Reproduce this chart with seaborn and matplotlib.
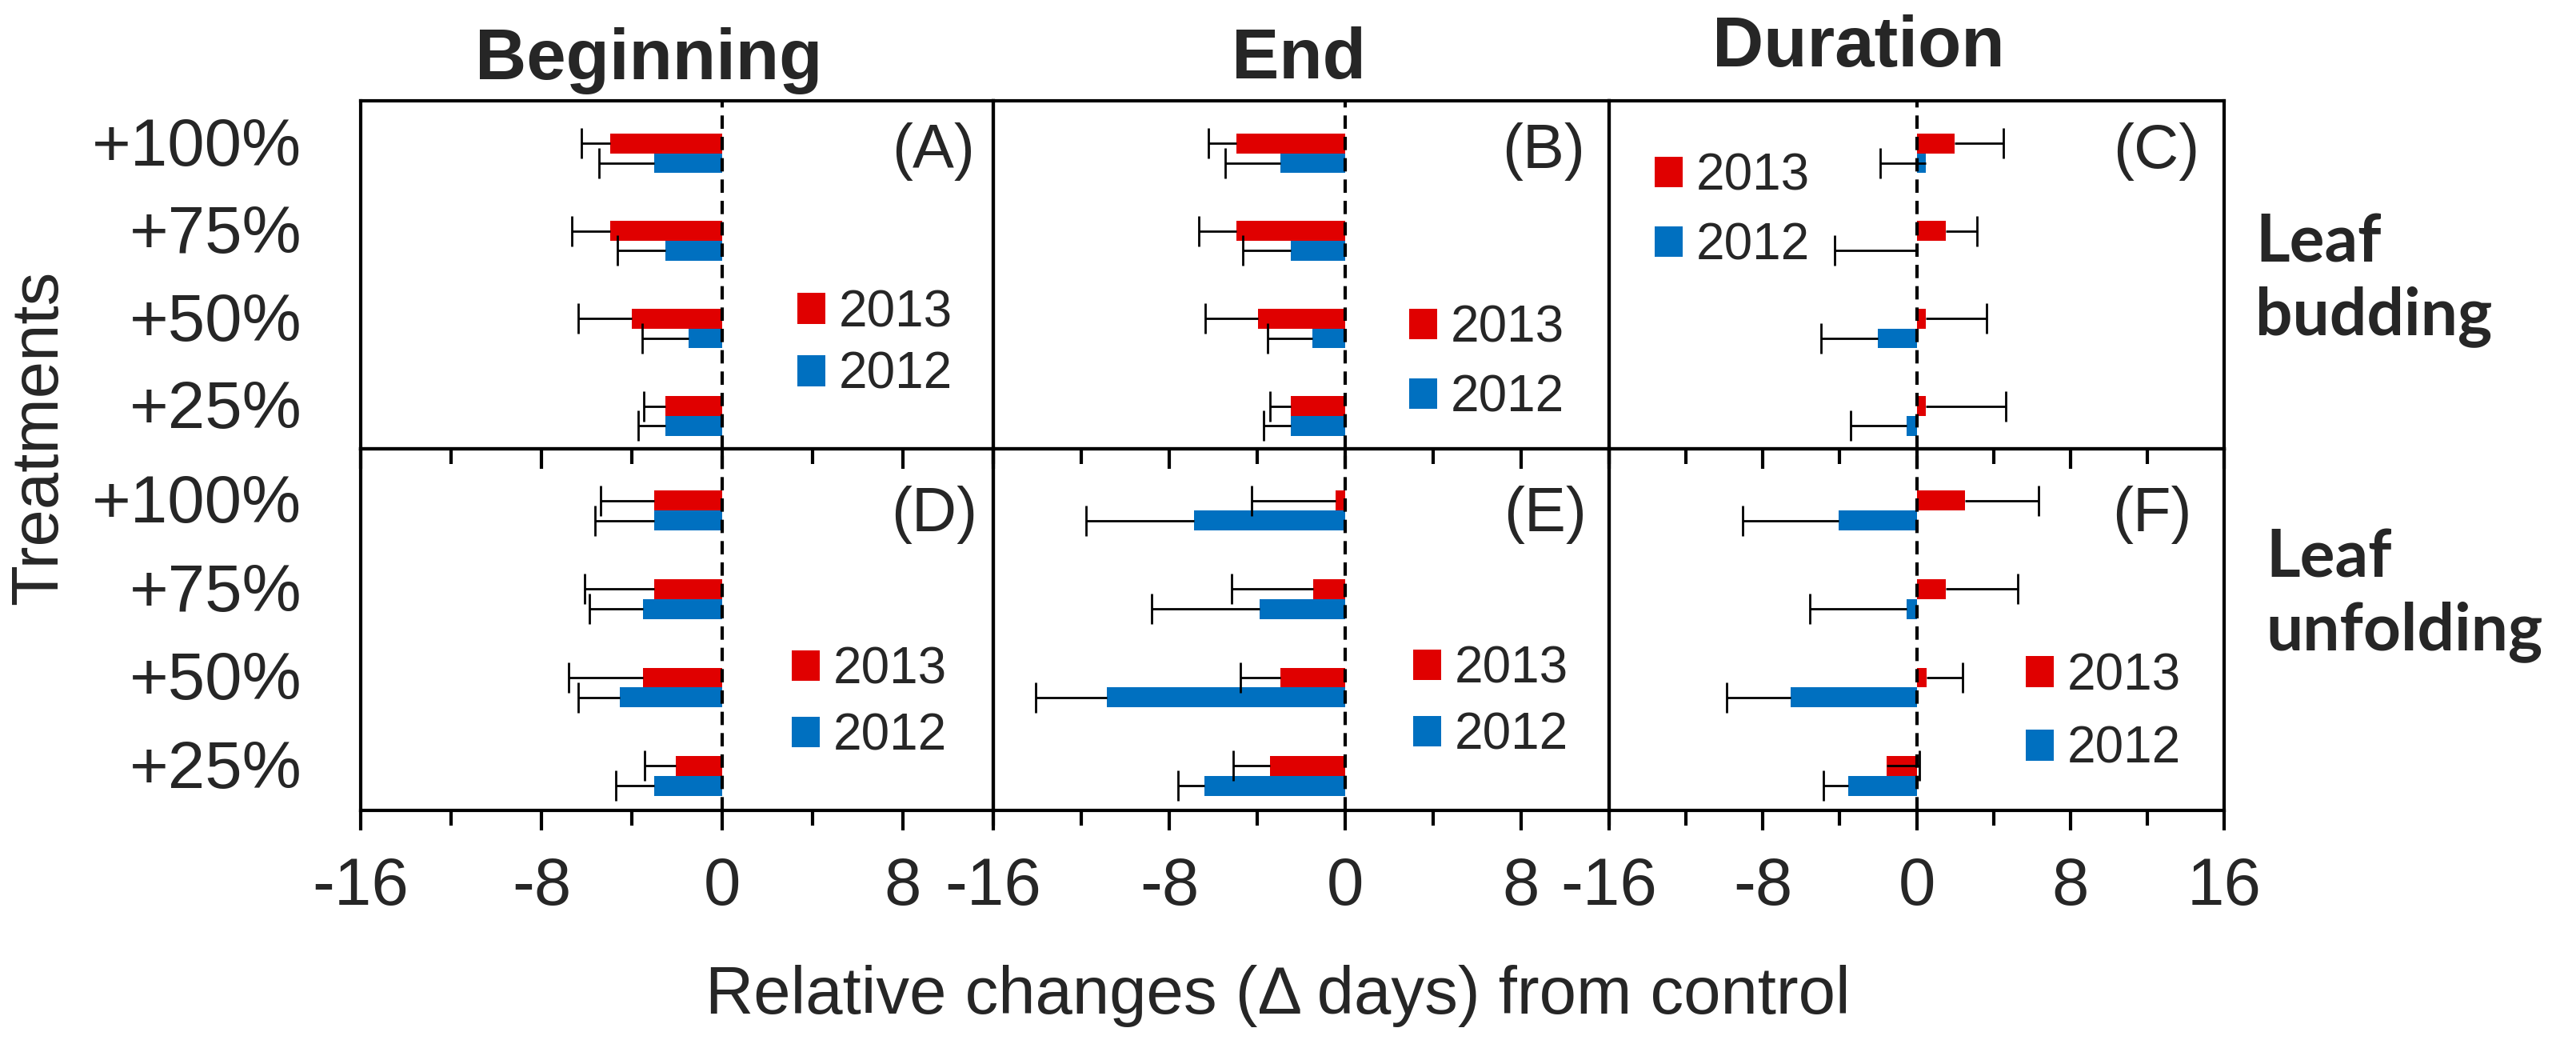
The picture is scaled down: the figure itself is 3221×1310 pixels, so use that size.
import numpy as np
import pandas as pd
import matplotlib
matplotlib.use("Agg")
import matplotlib.pyplot as plt
from matplotlib.ticker import MultipleLocator
import seaborn as sns

# Datos (cambio en dias respecto al control)
treatments = ["+100%", "+75%", "+50%", "+25%"]
years = ["2013", "2012"]
col_titles = ["Beginning", "End", "Duration"]
row_titles = ["Leaf\nbudding", "Leaf\nunfolding"]
panel_tags = ["(A)", "(B)", "(C)", "(D)", "(E)", "(F)"]

a_2013 = [-4.95, -4.95, -3.99, -2.50]
a_2012 = [-3.00, -2.50, -1.49, -2.50]
b_2013 = [-4.95, -4.95, -3.97, -2.47]
b_2012 = [-2.95, -2.47, -1.49, -2.47]
c_2013 = [1.98, 1.51, 0.47, 0.47]
c_2012 = [0.47, 0.00, -2.02, -0.54]
d_2013 = [-3.02, -3.02, -3.52, -2.04]
d_2012 = [-3.02, -3.52, -4.52, -3.02]
e_2013 = [-0.43, -1.45, -2.94, -3.42]
e_2012 = [-6.87, -3.89, -10.84, -6.40]
f_2013 = [2.52, 1.52, 0.52, -1.54]
f_2012 = [-4.06, -0.54, -6.55, -3.54]

# error bars, signed: negative = drawn to the left of the bar end
a_err_2013 = [-1.28, -1.72, -2.39, -0.96]
a_err_2012 = [-2.44, -2.14, -2.06, -1.22]
b_err_2013 = [-1.27, -1.72, -2.41, -0.96]
b_err_2012 = [-2.50, -2.19, -2.05, -1.23]
c_err_2013 = [2.52, 1.64, 3.19, 4.16]
c_err_2012 = [-2.36, -4.27, -2.97, -2.90]
d_err_2013 = [-2.36, -3.08, -3.29, -1.40]
d_err_2012 = [-2.61, -2.35, -1.86, -1.69]
e_err_2013 = [-3.82, -3.70, -1.84, -1.66]
e_err_2012 = [-4.93, -4.91, -3.25, -1.19]
f_err_2013 = [3.83, 3.74, 1.88, 1.68]
f_err_2012 = [-4.99, -5.01, -3.33, -1.29]

x_limits = [(-16, 12), (-16, 12), (-16, 16)]

panels = [
    (a_2013, a_2012, a_err_2013, a_err_2012),
    (b_2013, b_2012, b_err_2013, b_err_2012),
    (c_2013, c_2012, c_err_2013, c_err_2012),
    (d_2013, d_2012, d_err_2013, d_err_2012),
    (e_2013, e_2012, e_err_2013, e_err_2012),
    (f_2013, f_2012, f_err_2013, f_err_2012),
]

colors = {"2013": "#E00000", "2012": "#0070C0"}

sns.set_theme(style="ticks")
plt.rcParams["font.family"] = ["Liberation Sans", "DejaVu Sans"]
plt.rcParams["axes.unicode_minus"] = False

W, H = 3221, 1310
fig = plt.figure(figsize=(W / 100, H / 100), dpi=100)
fig.patch.set_facecolor("white")

# limites de cada panel en pixeles
col_edges = [451, 1242, 2012, 2781]
row_edges = [(126, 561), (561, 1013)]
row_ylims = [(3.375, -0.60), (3.39, -0.70)]

# posiciones de leyenda (centro, px) y espaciado
legend_pos = [(1094, 430, 0.28), (1859, 454, 0.42), (2166, 264, 0.42),
              (1087, 879, 0.36), (1864, 878, 0.36), (2630, 891, 0.5)]
tag_pos = [(1167, 190), (1930, 190), (2696, 190),
           (1168, 643), (1932, 643), (2691, 643)]

for p, (v13, v12, e13, e12) in enumerate(panels):
    r, c = divmod(p, 3)
    top, bot = row_edges[r]
    left, right = col_edges[c], col_edges[c + 1]
    ax = fig.add_axes([left / W, 1 - bot / H, (right - left) / W, (bot - top) / H])
    ax.patch.set_alpha(0)

    df = pd.DataFrame({
        "treatment": treatments * 2,
        "year": [years[0]] * 4 + [years[1]] * 4,
        "change": v13 + v12,
    })
    sns.barplot(data=df, x="change", y="treatment", hue="year", hue_order=years,
                order=treatments, palette=colors, saturation=1, width=0.45,
                orient="h", errorbar=None, linewidth=0, ax=ax)

    errs = {"2013": e13, "2012": e12}
    for k, year in enumerate(years):
        for patch in ax.containers[k]:
            yc = patch.get_y() + patch.get_height() / 2
            idx = int(round(yc))
            end = patch.get_x() + patch.get_width()
            err = errs[year][idx]
            lo, hi = (-err, 0) if err < 0 else (0, err)
            _, caps, _ = ax.errorbar(end, yc, xerr=[[lo], [hi]], fmt="none", ecolor="black",
                                     elinewidth=2, capsize=13.7, capthick=2, zorder=4)
            caps[1 if err < 0 else 0].set_visible(False)

    ax.axvline(0, color="black", lw=3, ls=(0, (4, 2.4)), zorder=5)

    ax.set_xlim(*x_limits[c])
    ax.set_ylim(*row_ylims[r])
    ax.set_xlabel("")
    ax.set_ylabel("")
    ax.xaxis.set_major_locator(MultipleLocator(8))
    ax.xaxis.set_minor_locator(MultipleLocator(4))
    ax.tick_params(axis="x", which="major", direction="out", length=18, width=3,
                   labelsize=60, pad=23, labelbottom=(r == 1), color="black")
    ax.tick_params(axis="x", which="minor", direction="out", length=13.7, width=3,
                   color="black")
    ax.set_yticks(np.arange(len(treatments)) - 0.14, treatments)
    ax.tick_params(axis="y", length=0, pad=53, labelsize=60, labelleft=(c == 0))
    for s in ax.spines.values():
        s.set_visible(True)
        s.set_linewidth(3)
        s.set_color("black")

    old = ax.get_legend()
    handles = old.legend_handles
    labels = [t.get_text() for t in old.get_texts()]
    old.remove()
    lx, ly, sp = legend_pos[p]
    ax.legend(handles, labels, loc="center", bbox_to_anchor=(lx / W, 1 - ly / H),
              bbox_transform=fig.transFigure, frameon=False, fontsize=46,
              handlelength=0.55, handleheight=0.55, handletextpad=0.27,
              labelspacing=sp, borderpad=0, borderaxespad=0)

    tx, ty = tag_pos[p]
    fig.text(tx / W, 1 - ty / H, panel_tags[p], fontsize=56, ha="center", va="center")

# titulos de columnas
fig.text(811 / W, 1 - 99 / H, col_titles[0], fontsize=64, fontweight="bold",
         ha="center", va="baseline")
fig.text(1624 / W, 1 - 98 / H, col_titles[1], fontsize=64, fontweight="bold",
         ha="center", va="baseline")
fig.text(2324 / W, 1 - 83 / H, col_titles[2], fontsize=64, fontweight="bold",
         ha="center", va="baseline")

# titulos de filas
fig.text(2820 / W, 1 - 350 / H, row_titles[0], fontsize=59, fontweight="bold",
         family=["Lato", "DejaVu Sans"], ha="left", va="center", linespacing=1.25)
fig.text(2833 / W, 1 - 744 / H, row_titles[1], fontsize=59, fontweight="bold",
         family=["Lato", "DejaVu Sans"], ha="left", va="center", linespacing=1.25)

fig.text(49 / W, 1 - 547 / H, "Treatments", fontsize=60, rotation=90,
         ha="center", va="center")
fig.text(1598 / W, 1 - 1245 / H, "Relative changes (\u0394 days) from control",
         fontsize=60, ha="center", va="center")

fig.savefig("out.png", dpi=100, facecolor="white")
